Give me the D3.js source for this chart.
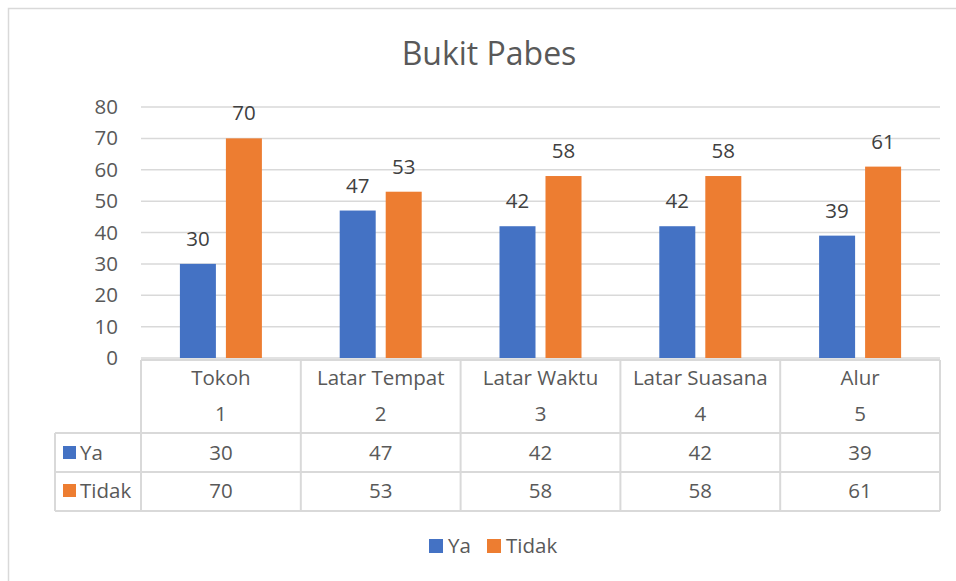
<!DOCTYPE html>
<html>
<head>
<meta charset="utf-8">
<script src="https://cdn.jsdelivr.net/npm/d3@7"></script>
<style>
  body { margin: 0; background: #fff; }
  text { font-family: "Open Sans", Lato, sans-serif; }
</style>
</head>
<body>
<script>
// data
var categories = ["Tokoh", "Latar Tempat", "Latar Waktu", "Latar Suasana", "Alur"];
var numbers = ["1", "2", "3", "4", "5"];
var seriesNames = ["Ya", "Tidak"];
var ya = [30, 47, 42, 42, 39];
var tidak = [70, 53, 58, 58, 61];
var yTicks = [0, 10, 20, 30, 40, 50, 60, 70, 80];

var width = 956, height = 581;
var colors = ["#4472C4", "#ED7D31"];
var grid = "#d9d9d9";
var textCol = "#595959";
var fs = 20.5;

var svg = d3.select("body").append("svg")
    .attr("width", width)
    .attr("height", height);

// chart border (only top and left visible in the picture)
svg.append("rect")
    .attr("x", 8.5).attr("y", 8.5)
    .attr("width", 970).attr("height", 600)
    .attr("fill", "none").attr("stroke", grid).attr("stroke-width", 1.5);

svg.append("text")
    .attr("x", 489).attr("y", 65)
    .attr("text-anchor", "middle")
    .attr("font-size", 32)
    .attr("fill", textCol)
    .text("Bukit Pabes");

var plotLeft = 141, plotRight = 940, plotTop = 107, plotBottom = 358;

var x = d3.scaleBand().domain(categories).range([plotLeft, plotRight]);
var y = d3.scaleLinear().domain([0, 80]).range([plotBottom, plotTop]);

// gridlines
svg.append("g").selectAll("line")
    .data(yTicks)
    .enter().append("line")
    .attr("x1", plotLeft).attr("x2", plotRight)
    .attr("y1", function(d){ return y(d); })
    .attr("y2", function(d){ return y(d); })
    .attr("stroke", grid).attr("stroke-width", 1.5);

// y axis labels
var yAxis = d3.axisLeft(y).tickValues(yTicks).tickSize(0).tickPadding(0);
var yg = svg.append("g")
    .attr("transform", "translate(118,0)")
    .call(yAxis);
yg.select(".domain").remove();
yg.selectAll("text")
    .attr("font-size", fs)
    .attr("fill", textCol)
    .attr("font-family", "'Open Sans', sans-serif");

// bars
var series = [ya, tidak];
var barW = 36, gap = 10;
var groups = svg.append("g").selectAll("g")
    .data(series)
    .enter().append("g")
    .attr("fill", function(d, i){ return colors[i]; });

function barX(i, si){
    var c = x(categories[i]) + x.bandwidth() / 2;
    return si === 0 ? c - gap / 2 - barW : c + gap / 2;
}

groups.each(function(vals, si){
    var g = d3.select(this);
    g.selectAll("rect")
        .data(vals)
        .enter().append("rect")
        .attr("x", function(d, i){ return barX(i, si); })
        .attr("y", function(d){ return y(d); })
        .attr("width", barW)
        .attr("height", function(d){ return plotBottom - y(d); });
    g.selectAll("text")
        .data(vals)
        .enter().append("text")
        .attr("x", function(d, i){ return barX(i, si) + barW / 2; })
        .attr("y", function(d){ return y(d) - 18; })
        .attr("text-anchor", "middle")
        .attr("font-size", fs)
        .attr("fill", "#404040")
        .text(function(d){ return d; });
});

// data table
var rowY = [360, 433, 472, 511];
var tableLeft = 55;
var tbl = svg.append("g").attr("stroke", grid).attr("stroke-width", 2).attr("fill", "none");
tbl.append("line").attr("x1", plotLeft).attr("x2", plotRight).attr("y1", rowY[0]).attr("y2", rowY[0]);
[rowY[1], rowY[2], rowY[3]].forEach(function(yy){
    tbl.append("line").attr("x1", tableLeft).attr("x2", plotRight).attr("y1", yy).attr("y2", yy);
});
tbl.append("line").attr("x1", tableLeft).attr("x2", tableLeft).attr("y1", rowY[1]).attr("y2", rowY[3]);
var vx = categories.map(function(c){ return x(c); }).concat([plotRight]);
tbl.selectAll(".v").data(vx).enter().append("line")
    .attr("x1", function(d){ return d; }).attr("x2", function(d){ return d; })
    .attr("y1", rowY[0]).attr("y2", rowY[3]);

function rowText(vals, baseline){
    svg.append("g").selectAll("text")
        .data(vals)
        .enter().append("text")
        .attr("x", function(d, i){ return x(categories[i]) + x.bandwidth() / 2; })
        .attr("y", baseline)
        .attr("text-anchor", "middle")
        .attr("font-size", fs)
        .attr("fill", textCol)
        .text(function(d){ return d; });
}
rowText(categories, 385);
rowText(numbers, 421);
rowText(ya, 460);
rowText(tidak, 498);

// legend keys inside table
var keyRows = [446, 484];
seriesNames.forEach(function(name, i){
    svg.append("rect")
        .attr("x", 63).attr("y", keyRows[i])
        .attr("width", 13).attr("height", 13)
        .attr("fill", colors[i]);
    svg.append("text")
        .attr("x", 80).attr("y", keyRows[i] + 14)
        .attr("font-size", fs)
        .attr("fill", textCol)
        .text(name);
});

// bottom legend
var legX = [429, 487];
seriesNames.forEach(function(name, i){
    svg.append("rect")
        .attr("x", legX[i]).attr("y", 539)
        .attr("width", 14).attr("height", 14)
        .attr("fill", colors[i]);
    svg.append("text")
        .attr("x", legX[i] + 19).attr("y", 553)
        .attr("font-size", fs)
        .attr("fill", textCol)
        .text(name);
});
</script>
</body>
</html>
